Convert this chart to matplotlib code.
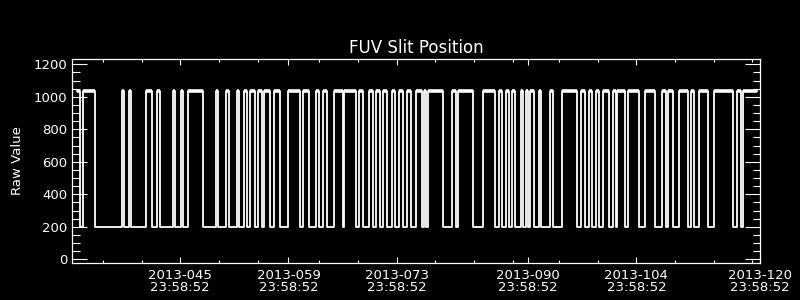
import matplotlib
matplotlib.use("Agg")
import matplotlib.pyplot as plt
from matplotlib.ticker import FixedLocator

# time axis in fractional day-of-year 2013 (045 23:58:52 ~ 46.0)
rise_days = [32.71, 33.36, 38.43, 39.37, 41.53, 43.03, 45.07, 46.06, 47.04, 50.59,
             51.96, 53.31, 54.29, 55.07, 56.02, 56.88, 58.17, 59.98, 61.88, 63.56,
             64.43, 65.93, 67.23, 69.17, 70.46, 71.33, 72.19, 73.36, 74.30, 75.30,
             76.50, 77.57, 78.09, 81.20, 81.97, 85.21, 87.24, 88.10, 88.88, 90.08,
             90.69, 91.25, 92.45, 93.83, 95.43, 97.84, 98.88, 99.78, 100.65, 102.02,
             102.54, 103.96, 106.12, 108.28, 109.06, 110.56, 112.07, 113.11, 115.05,
             117.99, 118.84]
fall_days = [33.03, 35.01, 38.73, 39.63, 42.39, 43.38, 45.26, 46.32, 48.99, 50.89,
             52.31, 53.60, 54.64, 55.63, 56.54, 57.61, 58.95, 61.49, 62.66, 63.89,
             64.95, 67.02, 68.80, 69.68, 70.90, 71.84, 72.79, 73.78, 74.86, 75.85,
             77.24, 77.79, 80.03, 81.64, 83.91, 86.72, 87.59, 88.53, 89.31, 90.38,
             90.95, 91.76, 92.63, 94.18, 97.37, 98.36, 99.23, 100.21, 101.50, 102.37,
             103.54, 105.39, 107.42, 108.80, 109.78, 111.72, 112.46, 114.23, 117.55,
             118.50]
end_day = 120.57
high_val = 1033
low_val = 201

major_days = [46.0, 60.0, 74.0, 91.0, 105.0, 121.0]
major_labels = ["2013-045\n23:58:52", "2013-059\n23:58:52", "2013-073\n23:58:52",
                "2013-090\n23:58:52", "2013-104\n23:58:52", "2013-120\n23:58:52"]
minor_days = [36, 41, 51, 56, 64, 69, 79, 84, 89, 95, 100, 110, 115, 120]

# build the step trace
t, v = [], []
for i, r in enumerate(rise_days):
    if i < len(fall_days):
        f = fall_days[i]
        t += [r, r, f, f]
        v += [low_val, high_val, high_val, low_val]
    else:
        t += [r, r, end_day]
        v += [low_val, high_val, high_val]
t, v = t[1:], v[1:]

fig = plt.figure(figsize=(8, 3), dpi=100, facecolor="black")
ax = fig.add_axes([0.09, 0.1233, 0.86, 0.68], facecolor="black")

ax.plot(t, v, color="white", lw=1.3)
tops_end = fall_days + [end_day]
ax.hlines([high_val] * len(rise_days), rise_days, tops_end, color="white", lw=2.6)

ax.set_xlim(32, 121)
ax.set_ylim(-23, 1233)
ax.xaxis.set_major_locator(FixedLocator(major_days))
ax.xaxis.set_minor_locator(FixedLocator(minor_days))
ax.set_xticklabels(major_labels, fontsize=9.5, linespacing=0.95)
ax.set_yticks(range(0, 1201, 200))
ax.yaxis.set_minor_locator(FixedLocator(range(0, 1201, 50)))
ax.tick_params(axis="y", which="major", labelsize=9.5, length=10.8)
ax.tick_params(axis="y", which="minor", length=5.4)
ax.tick_params(axis="x", which="major", length=4.3, pad=4)
ax.tick_params(axis="x", which="minor", length=2.5)
ax.tick_params(which="both", direction="in", colors="white", width=0.8,
               top=True, right=True)
for s in ax.spines.values():
    s.set_color("white")
    s.set_linewidth(0.9)

ax.set_title("FUV Slit Position", color="white", fontsize=12, pad=4.5)
ax.set_ylabel("Raw Value", color="white", fontsize=9.5)
ax.yaxis.set_label_coords(-0.07, 0.5)

plt.savefig("out.png", dpi=100, facecolor="black")
plt.close()
